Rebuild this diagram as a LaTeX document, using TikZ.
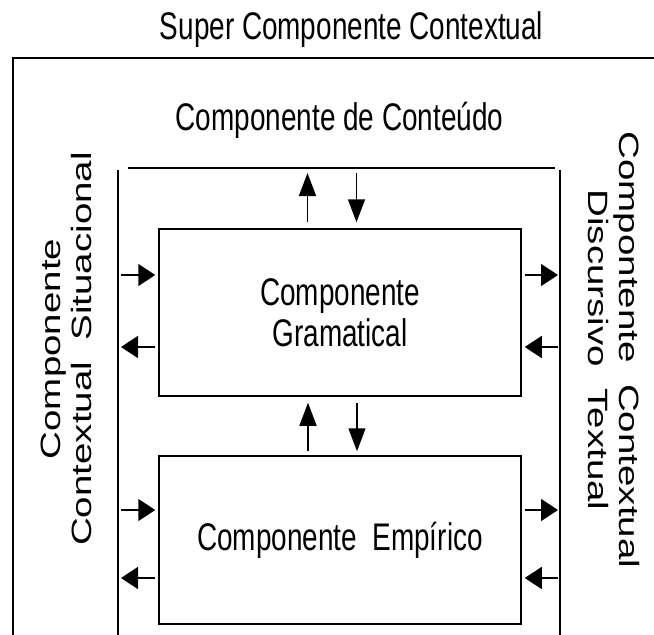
\documentclass[tikz,border=0pt]{standalone}
\usepackage{fontspec}
\setmainfont{Liberation Sans}[FakeStretch=0.725]
\newfontfamily\rotfont{Liberation Sans}
\usepackage{graphicx}
\usetikzlibrary{arrows.meta}
\newcommand{\rotlabel}[2]{\scalebox{1}[0.725]{\rotfont\fontsize{38.5}{41.5}\selectfont\begin{tabular}{@{}c@{}}#1\\#2\end{tabular}}}
\tikzset{
  bigtext/.style={font=\fontsize{38.5}{41.5}\selectfont, inner sep=0pt},
  compbox/.style={draw, line width=1.5pt, minimum width=362pt, inner sep=0pt, align=center, font=\fontsize{38.5}{41.5}\selectfont},
  frameline/.style={line width=1.5pt},
  outerline/.style={line width=2pt},
  varr/.style={line width=1.6pt, -{Triangle[length=23pt, width=17pt]}},
  harr/.style={line width=1.6pt, -{Triangle[length=17pt, width=22pt]}},
}
\begin{document}
\begin{tikzpicture}[x=1pt, y=-1pt]
\fill[white] (0,0) rectangle (654,635);
\useasboundingbox (0,0) rectangle (654,635);

% titles
\node[bigtext, anchor=base] (super) at (351.5,39) {Super Componente Contextual};
\node[bigtext, anchor=base] (conteudo) at (339.5,130) {Componente de Conteúdo};

% outer frame
\coordinate (oTL) at (13,58);
\coordinate (oTR) at (654,58);
\coordinate (oBL) at (13,635);
\draw[outerline] (oTR) -- (oTL) -- (oBL);

% inner frame lines
\coordinate (tlL) at (128,168);
\coordinate (tlR) at (555,168);
\coordinate (llT) at (118,170);
\coordinate (llB) at (118,635);
\coordinate (rlT) at (560,170);
\coordinate (rlB) at (560,635);
\draw[frameline] (tlL) -- (tlR);
\draw[frameline] (llT) -- (llB);
\draw[frameline] (rlT) -- (rlB);

% boxes
\node[compbox, minimum height=167pt] (gram) at (340,312.5) {Componente\\Gramatical};
\node[compbox, minimum height=168pt, text height=28.5pt, text depth=8pt] (emp) at (340,540) {Componente\ \ Empírico};

% side labels
\node[rotate=90, inner sep=0pt] (sit) at (70,349) {\rotlabel{Componente}{Contextual\ \ Situacional}};
\node[rotate=-90, inner sep=0pt] (disc) at (610,350) {\rotlabel{Compontente\ \ Contextual}{Discursivo\ \ Textual}};

% vertical arrows: top line <-> gramatical
\coordinate (gu) at ([xshift=-32.5pt]gram.north);
\coordinate (gd) at ([xshift=16.5pt]gram.north);
\draw[varr, shorten <=6pt, shorten >=5pt] (gu) -- (gu |- tlL);
\draw[varr, shorten <=5pt, shorten >=6pt] (gd |- tlL) -- (gd);

% vertical arrows: gramatical <-> empirico
\coordinate (eu) at ([xshift=-32pt]emp.north);
\coordinate (ed) at ([xshift=17pt]emp.north);
\draw[varr, shorten <=4pt, shorten >=6pt] (eu) -- (eu |- gram.south);
\draw[varr, shorten <=6pt, shorten >=4pt] (ed |- gram.south) -- (ed);

% side arrows, gramatical
\coordinate (gl1) at ([yshift=37.5pt]gram.west);
\coordinate (gl2) at ([yshift=-34.5pt]gram.west);
\coordinate (gr1) at ([yshift=37.5pt]gram.east);
\coordinate (gr2) at ([yshift=-34.5pt]gram.east);
\draw[harr, shorten <=3pt, shorten >=3pt] (gl1 -| llT) -- (gl1);
\draw[harr, shorten <=3pt, shorten >=3pt] (gl2) -- (gl2 -| llT);
\draw[harr, shorten <=3pt, shorten >=2pt] (gr1) -- (gr1 -| rlT);
\draw[harr, shorten <=2pt, shorten >=3pt] (gr2 -| rlT) -- (gr2);

% side arrows, empirico
\coordinate (el1) at ([yshift=30pt]emp.west);
\coordinate (el2) at ([yshift=-38pt]emp.west);
\coordinate (er1) at ([yshift=30pt]emp.east);
\coordinate (er2) at ([yshift=-38pt]emp.east);
\draw[harr, shorten <=3pt, shorten >=3pt] (el1 -| llT) -- (el1);
\draw[harr, shorten <=3pt, shorten >=3pt] (el2) -- (el2 -| llT);
\draw[harr, shorten <=3pt, shorten >=2pt] (er1) -- (er1 -| rlT);
\draw[harr, shorten <=2pt, shorten >=3pt] (er2 -| rlT) -- (er2);
\end{tikzpicture}
\end{document}
